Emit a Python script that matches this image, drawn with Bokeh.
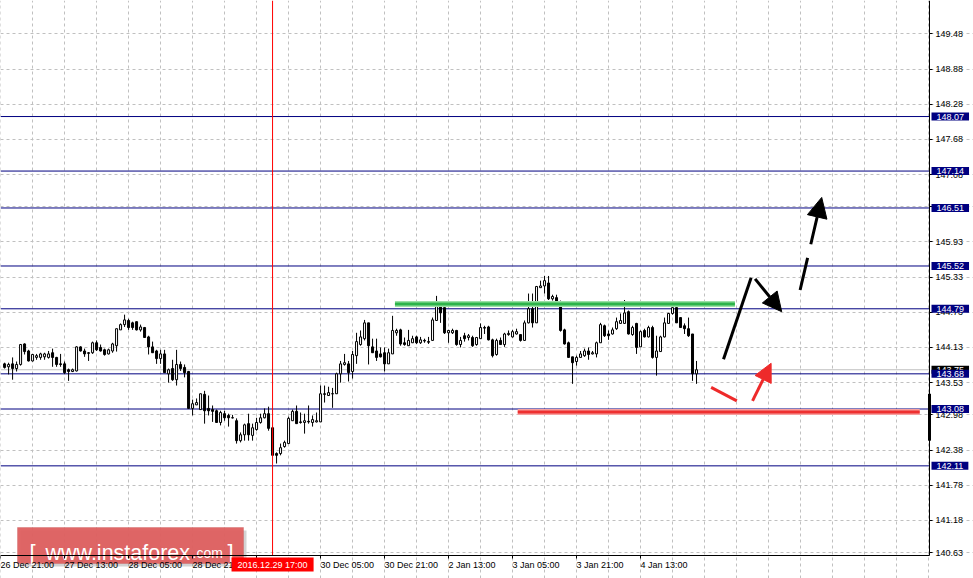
from bokeh.plotting import figure
from bokeh.models import (Range1d, FixedTicker, PrintfTickFormatter, Label,
                          Arrow, NormalHead, BoxAnnotation)
from bokeh.embed import file_html
from bokeh.resources import INLINE

# ---------------- data (H1 candles, bar index 0 = 26 Dec 22:00) ----------------
opens = [
    143.85, 143.80, 143.85, 143.77, 143.84, 144.19, 144.07, 143.90, 143.96, 143.96,
    143.97, 143.96, 144.04, 143.96, 143.85, 143.85, 143.75, 143.72, 143.73, 144.14,
    144.07, 144.04, 144.04, 144.21, 144.13, 144.09, 144.02, 144.07, 144.16, 144.43,
    144.52, 144.59, 144.55, 144.57, 144.43, 144.47, 144.31, 144.14, 144.07, 143.94,
    144.02, 143.68, 143.77, 143.58, 143.84, 143.79, 143.72, 143.09, 143.15, 143.07,
    143.33, 143.09, 143.07, 143.05, 142.85, 143.00, 142.97, 142.93, 142.88, 142.54,
    142.64, 142.83, 142.63, 142.73, 142.85, 142.93, 143.00, 142.76, 142.32, 142.32,
    142.44, 142.49, 142.88, 143.04, 142.86, 142.85, 142.87, 142.85, 142.86, 142.86,
    143.34, 143.31, 143.34, 143.34, 143.68, 143.84, 143.85, 143.72, 143.99, 144.18,
    144.28, 144.55, 144.14, 144.07, 144.02, 144.04, 143.85, 144.02, 144.38, 144.43,
    144.21, 144.16, 144.21, 144.31, 144.21, 144.25, 144.23, 144.25, 144.59, 144.84,
    144.81, 144.38, 144.38, 144.42, 144.18, 144.33, 144.30, 144.30, 144.18, 144.28,
    144.47, 144.48, 144.26, 144.01, 144.25, 144.18, 144.35, 144.31, 144.36, 144.35,
    144.25, 144.55, 144.79, 144.55, 145.15, 145.18, 145.23, 144.96, 144.98, 144.88,
    144.43, 144.21, 143.97, 143.89, 143.96, 143.99, 144.07, 144.02, 144.02, 144.21,
    144.50, 144.36, 144.36, 144.45, 144.54, 144.54, 144.74, 144.35, 144.54, 144.14,
    144.42, 144.31, 144.47, 143.96, 144.06, 144.31, 144.54, 144.71, 144.81, 144.64,
    144.50, 144.45, 144.36, 143.68,
]
highs = [
    143.87, 143.87, 143.96, 143.89, 144.19, 144.20, 144.09, 144.02, 144.02, 144.04,
    144.04, 144.07, 144.11, 143.97, 144.02, 143.89, 143.77, 143.77, 144.15, 144.15,
    144.11, 144.05, 144.23, 144.25, 144.18, 144.11, 144.11, 144.21, 144.45, 144.54,
    144.69, 144.62, 144.57, 144.57, 144.52, 144.48, 144.33, 144.23, 144.09, 144.09,
    144.09, 143.77, 143.92, 144.09, 143.89, 143.84, 143.73, 143.24, 143.26, 143.34,
    143.39, 143.31, 143.14, 143.07, 143.05, 143.05, 143.00, 142.98, 142.92, 142.68,
    142.83, 143.00, 142.83, 142.93, 143.00, 143.09, 143.12, 142.78, 142.34, 142.49,
    142.54, 142.95, 143.07, 143.14, 143.02, 143.00, 143.14, 142.97, 143.02, 143.48,
    143.48, 143.46, 143.44, 143.70, 143.90, 144.02, 143.90, 144.07, 144.38, 144.42,
    144.60, 144.55, 144.28, 144.28, 144.13, 144.13, 144.11, 144.67, 144.45, 144.45,
    144.30, 144.43, 144.33, 144.33, 144.31, 144.28, 144.31, 144.64, 145.01, 144.89,
    144.81, 144.43, 144.45, 144.43, 144.31, 144.38, 144.36, 144.33, 144.31, 144.54,
    144.50, 144.50, 144.28, 144.28, 144.30, 144.38, 144.42, 144.43, 144.45, 144.35,
    144.59, 145.05, 145.05, 145.18, 145.27, 145.35, 145.35, 145.03, 145.03, 144.93,
    144.45, 144.23, 143.97, 143.99, 144.07, 144.11, 144.13, 144.07, 144.23, 144.55,
    144.52, 144.42, 144.47, 144.64, 144.71, 144.94, 144.76, 144.50, 144.55, 144.42,
    144.45, 144.50, 144.50, 144.33, 144.33, 144.64, 144.72, 144.89, 144.81, 144.64,
    144.54, 144.64, 144.36, 143.90,
]
lows = [
    143.77, 143.67, 143.58, 143.72, 143.82, 144.01, 143.89, 143.89, 143.92, 143.92,
    143.92, 143.94, 143.80, 143.80, 143.80, 143.68, 143.56, 143.71, 143.72, 144.06,
    143.97, 143.90, 144.02, 144.07, 144.06, 143.99, 144.01, 144.04, 144.06, 144.43,
    144.48, 144.43, 144.43, 144.42, 144.40, 144.30, 144.01, 144.04, 143.85, 143.85,
    143.70, 143.53, 143.56, 143.48, 143.73, 143.62, 143.09, 142.97, 143.15, 143.07,
    142.83, 142.97, 142.86, 142.85, 142.80, 142.88, 142.78, 142.92, 142.49, 142.51,
    142.54, 142.54, 142.54, 142.71, 142.83, 142.92, 142.71, 142.29, 142.15, 142.29,
    142.42, 142.49, 142.88, 142.83, 142.83, 142.66, 142.83, 142.78, 142.85, 142.86,
    143.19, 143.31, 143.10, 143.34, 143.53, 143.82, 143.55, 143.60, 143.85, 144.16,
    144.25, 143.84, 144.04, 143.90, 143.96, 143.72, 143.85, 144.02, 144.33, 144.16,
    144.16, 144.16, 144.21, 144.19, 144.19, 144.21, 144.19, 144.25, 144.59, 144.55,
    144.36, 144.21, 144.36, 144.16, 144.13, 144.23, 144.25, 144.14, 144.16, 144.28,
    144.36, 144.25, 143.96, 143.99, 144.18, 144.14, 144.33, 144.30, 144.35, 144.23,
    144.25, 144.54, 144.47, 144.55, 145.15, 145.05, 144.94, 144.93, 144.83, 144.40,
    144.18, 143.96, 143.51, 143.82, 143.96, 143.97, 143.92, 144.01, 143.96, 144.21,
    144.31, 144.26, 144.35, 144.43, 144.54, 144.54, 144.35, 144.33, 144.02, 144.14,
    144.30, 144.30, 143.94, 143.65, 144.06, 144.30, 144.54, 144.69, 144.55, 144.47,
    144.36, 144.31, 143.56, 143.51,
]
closes = [
    143.79, 143.84, 143.77, 143.84, 144.18, 144.06, 143.90, 144.01, 143.99, 144.02,
    144.02, 144.02, 143.96, 143.84, 143.84, 143.70, 143.72, 143.75, 144.14, 144.07,
    144.02, 144.03, 144.21, 144.09, 144.07, 144.01, 144.09, 144.19, 144.45, 144.52,
    144.60, 144.47, 144.47, 144.43, 144.48, 144.30, 144.14, 144.04, 143.94, 144.02,
    143.70, 143.75, 143.58, 143.84, 143.77, 143.70, 143.09, 143.17, 143.19, 143.34,
    143.05, 143.05, 143.04, 142.85, 143.02, 142.93, 142.93, 142.93, 142.54, 142.64,
    142.81, 142.64, 142.76, 142.85, 142.93, 143.00, 142.75, 142.29, 142.29, 142.42,
    142.51, 142.92, 143.04, 142.83, 142.85, 142.88, 142.86, 142.90, 142.88, 143.34,
    143.33, 143.36, 143.34, 143.68, 143.85, 143.87, 143.70, 144.01, 144.23, 144.31,
    144.55, 144.16, 144.04, 143.96, 143.97, 143.85, 144.04, 144.42, 144.42, 144.19,
    144.18, 144.25, 144.28, 144.21, 144.26, 144.24, 144.22, 144.60, 144.84, 144.72,
    144.38, 144.42, 144.42, 144.18, 144.25, 144.28, 144.33, 144.16, 144.30, 144.47,
    144.46, 144.26, 143.99, 144.25, 144.18, 144.36, 144.37, 144.40, 144.40, 144.25,
    144.55, 144.79, 144.55, 145.17, 145.18, 145.27, 144.96, 145.00, 144.84, 144.42,
    144.19, 143.96, 143.87, 143.96, 144.02, 144.07, 144.01, 144.04, 144.21, 144.52,
    144.33, 144.33, 144.43, 144.57, 144.59, 144.72, 144.36, 144.47, 144.13, 144.40,
    144.31, 144.47, 143.96, 144.07, 144.31, 144.55, 144.71, 144.81, 144.55, 144.47,
    144.45, 144.33, 143.68, 143.75,
]

time_tick_bars = [-1, 15, 31, 47, 63, 79, 95, 111, 127, 143, 159]
time_tick_labels = ["26 Dec 21:00", "27 Dec 13:00", "28 Dec 05:00", "28 Dec 21:00", "",
                    "30 Dec 05:00", "30 Dec 21:00", "2 Jan 13:00", "3 Jan 05:00",
                    "3 Jan 21:00", "4 Jan 13:00"]
price_ticks = [150.08, 149.48, 148.88, 148.28, 147.68, 147.08, 146.53, 145.93, 145.33,
               144.73, 144.13, 143.53, 142.98, 142.38, 141.78, 141.18, 140.63]
level_prices = [148.07, 147.14, 146.51, 145.52, 144.79, 143.68, 143.08, 142.11]
bid_price = 143.75
cursor_bar = 67
cursor_text = "2016.12.29 17:00"

green_x = [97.6, 182.6]
green_y = [144.87, 144.87]
red_x = [128.3, 228.8]
red_y = [143.03, 143.03]
black_leg_x = [179.75, 186.65]
black_leg_y = [143.93, 145.32]
black_arrow = [187.65, 145.30, 194.3, 144.74]
dashed_arrow = [198.9, 145.11, 204.3, 146.69]
red_leg_x = [176.65, 183.08]
red_leg_y = [143.45, 143.22]
red_arrow = [187.0, 143.22, 191.65, 143.86]
edge_bar_y = [142.54, 143.34]

# ---------------- figure ----------------
# chart area in data space; axes are pinned at its right / bottom edge
X_START, X_AXIS, X_END = -1.02, 231.25, 242.25
Y_AXIS, Y_TOP, Y_BOTTOM = 140.58, 150.05, 140.188

p = figure(width=973, height=578, x_range=Range1d(X_START, X_END),
           y_range=Range1d(Y_BOTTOM, Y_TOP), y_axis_location="right",
           output_backend="svg", toolbar_location=None,
           min_border_left=0, min_border_top=0, min_border_right=0, min_border_bottom=0)
p.outline_line_color = None
p.background_fill_color = "white"
p.border_fill_color = "white"

FONT = "Liberation Sans"

# axes
p.xaxis.fixed_location = Y_AXIS
p.xaxis.bounds = (X_START, X_AXIS)
p.xaxis.ticker = FixedTicker(ticks=time_tick_bars)
p.xaxis.major_label_overrides = {b: t for b, t in zip(time_tick_bars, time_tick_labels)}
p.xaxis.major_label_orientation = -1e-6
p.xaxis.major_label_text_font = FONT
p.xaxis.major_label_text_font_size = "9px"
p.xaxis.major_label_text_color = "black"
p.xaxis.major_label_standoff = 6
p.xaxis.major_tick_in = 0
p.xaxis.major_tick_out = 3
p.xaxis.minor_tick_line_color = None
p.xaxis.axis_line_color = "black"

p.yaxis.fixed_location = X_AXIS
p.yaxis.bounds = (Y_AXIS, Y_TOP)
p.yaxis.ticker = FixedTicker(ticks=price_ticks)
p.yaxis.formatter = PrintfTickFormatter(format="%.2f")
p.yaxis.major_label_text_font = FONT
p.yaxis.major_label_text_font_size = "9px"
p.yaxis.major_label_text_color = "black"
p.yaxis.major_label_standoff = 3
p.yaxis.major_tick_in = 0
p.yaxis.major_tick_out = 3
p.yaxis.minor_tick_line_color = None
p.yaxis.axis_line_color = "black"

p.xgrid.ticker = FixedTicker(ticks=list(range(-1, 232, 8)))
p.xgrid.bounds = (Y_AXIS, Y_TOP)
p.ygrid.bounds = (X_START, X_AXIS)
for g in (p.xgrid, p.ygrid):
    g.grid_line_color = "#c0c0c0"
    g.grid_line_dash = "3 3"
    g.grid_line_width = 1

# watermark (beneath everything else)
p.add_layout(BoxAnnotation(left=20, right=246, top=48, bottom=12,
                           left_units="screen", right_units="screen",
                           top_units="screen", bottom_units="screen",
                           fill_color="gray", fill_alpha=0.35, line_color=None,
                           level="underlay"))
p.add_layout(BoxAnnotation(left=17, right=243, top=51, bottom=15,
                           left_units="screen", right_units="screen",
                           top_units="screen", bottom_units="screen",
                           fill_color="#de5f5f", fill_alpha=0.95,
                           line_color="#c04a4a", line_width=1, level="underlay"))
for txt, xs, fs in [("[", 29, "22px"), ("www.instaforex", 45, "21.5px"),
                    (".com", 192, "14px"), ("]", 227, "22px")]:
    p.add_layout(Label(x=xs, y=26, x_units="screen", y_units="screen", text=txt,
                       text_font=FONT, text_font_size=fs, text_color="white",
                       text_baseline="alphabetic", text_align="left", level="underlay"))

# levels
n = len(level_prices)
p.segment(x0=[X_START] * n, y0=level_prices, x1=[X_AXIS] * n, y1=level_prices,
          line_color="#000080", line_width=1)
p.segment(x0=[X_START], y0=[bid_price], x1=[X_AXIS], y1=[bid_price],
          line_color="#c0c0c0", line_width=1)

# candles
idx = list(range(len(opens)))
mids = [(o + c) / 2 for o, c in zip(opens, closes)]
hgts = [max(abs(c - o), 0.004) for o, c in zip(opens, closes)]
fills = ["white" if c >= o else "black" for o, c in zip(opens, closes)]
p.segment(x0=idx, y0=lows, x1=idx, y1=highs, line_color="black", line_width=1)
p.rect(x=idx, y=mids, width=2, width_units="screen", height=hgts,
       fill_color=fills, line_color="black", line_width=1)

# right edge bar
p.segment(x0=[X_AXIS], y0=[edge_bar_y[0]], x1=[X_AXIS], y1=[edge_bar_y[1]],
          line_color="black", line_width=3)

# green & red levels
p.line(green_x, green_y, line_color="#9be0a6", line_width=6)
p.line(green_x, green_y, line_color="#2db34a", line_width=3)
p.line(red_x, red_y, line_color="#f7a0a0", line_width=6)
p.line(red_x, red_y, line_color="#ee3030", line_width=3)

# cursor line
p.segment(x0=[cursor_bar], y0=[Y_AXIS], x1=[cursor_bar], y1=[Y_TOP],
          line_color="red", line_width=1)

# arrows
p.line(black_leg_x, black_leg_y, line_color="black", line_width=3)
p.add_layout(Arrow(x_start=black_arrow[0], y_start=black_arrow[1],
                   x_end=black_arrow[2], y_end=black_arrow[3],
                   line_color="black", line_width=3,
                   end=NormalHead(size=19, fill_color="black", line_color="black")))
p.add_layout(Arrow(x_start=dashed_arrow[0], y_start=dashed_arrow[1],
                   x_end=dashed_arrow[2], y_end=dashed_arrow[3],
                   line_color="black", line_width=3, line_dash="33 14",
                   end=NormalHead(size=20, fill_color="black", line_color="black")))
p.line(red_leg_x, red_leg_y, line_color="#ee2a2a", line_width=3)
p.add_layout(Arrow(x_start=red_arrow[0], y_start=red_arrow[1],
                   x_end=red_arrow[2], y_end=red_arrow[3],
                   line_color="#ee2a2a", line_width=3,
                   end=NormalHead(size=18, fill_color="#ee2a2a", line_color="#ee2a2a")))

# price level tags
p.add_layout(Label(x=X_AXIS, y=bid_price, x_offset=2, text="%.2f" % bid_price,
                   text_font=FONT, text_font_size="9px", text_color="white",
                   text_baseline="middle", text_align="left",
                   background_fill_color="black", padding=(5, 1), level="overlay"))
for lv in level_prices:
    p.add_layout(Label(x=X_AXIS, y=lv, x_offset=2, text="%.2f" % lv,
                       text_font=FONT, text_font_size="9px", text_color="white",
                       text_baseline="middle", text_align="left",
                       background_fill_color="#000080", padding=(5, 1), level="overlay"))

# cursor time tag
p.add_layout(Label(x=cursor_bar, y=Y_AXIS, y_offset=-9, text=cursor_text,
                   text_font=FONT, text_font_size="9px", text_color="white",
                   text_baseline="middle", text_align="center",
                   background_fill_color="red", padding=(6, 2), level="overlay"))

open("out.html", "w").write(file_html(p, INLINE))
